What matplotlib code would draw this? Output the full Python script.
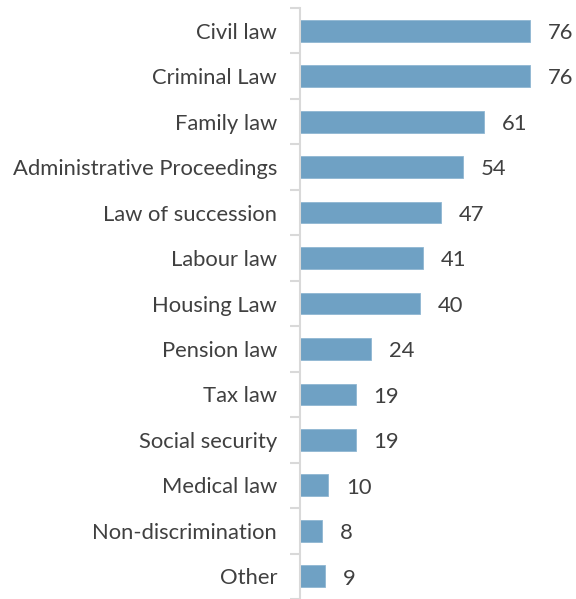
import numpy as np
import matplotlib
matplotlib.use("Agg")
import matplotlib.pyplot as plt

categories = ["Civil law", "Criminal Law", "Family law", "Administrative Proceedings",
              "Law of succession", "Labour law", "Housing Law", "Pension law",
              "Tax law", "Social security", "Medical law", "Non-discrimination", "Other"]
values = [76, 76, 61, 54, 47, 41, 40, 24, 19, 19, 10, 8, 9]

plt.rcParams["font.family"] = ["Lato", "DejaVu Sans"]
text_color = "#404040"
bar_color = "#6fa1c4"
axis_color = "#d9d9d9"

fig = plt.figure(figsize=(5.76, 5.99), dpi=100)
W, H = 576, 599
ax = fig.add_axes([300 / W, 0, 276 / W, 591 / H])

y = np.arange(len(categories))
ax.barh(y, values, height=0.48, color=bar_color, edgecolor="#8fb6d2", linewidth=0.6)
for yi, v in zip(y, values):
    ax.text(v + 5.8, yi + 0.05, str(v), va="center", ha="left", fontsize=15.8, color=text_color)

ax.set_ylim(len(categories) - 0.5, -0.5)
ax.set_xlim(0.8, 91)
ax.set_yticks(y)
ax.set_yticklabels(categories, fontsize=15.8, color=text_color)
ax.tick_params(axis="y", which="major", length=0, pad=16.5)
ax.set_yticks(np.arange(len(categories) + 1) - 0.5, minor=True)
ax.tick_params(axis="y", which="minor", length=7, width=1.5, color=axis_color)
ax.set_xticks([])

for side in ["top", "right", "bottom"]:
    ax.spines[side].set_visible(False)
ax.spines["left"].set_color(axis_color)
ax.spines["left"].set_linewidth(1.5)
ax.spines["left"].set_zorder(3)

fig.savefig("out.png", dpi=100)
